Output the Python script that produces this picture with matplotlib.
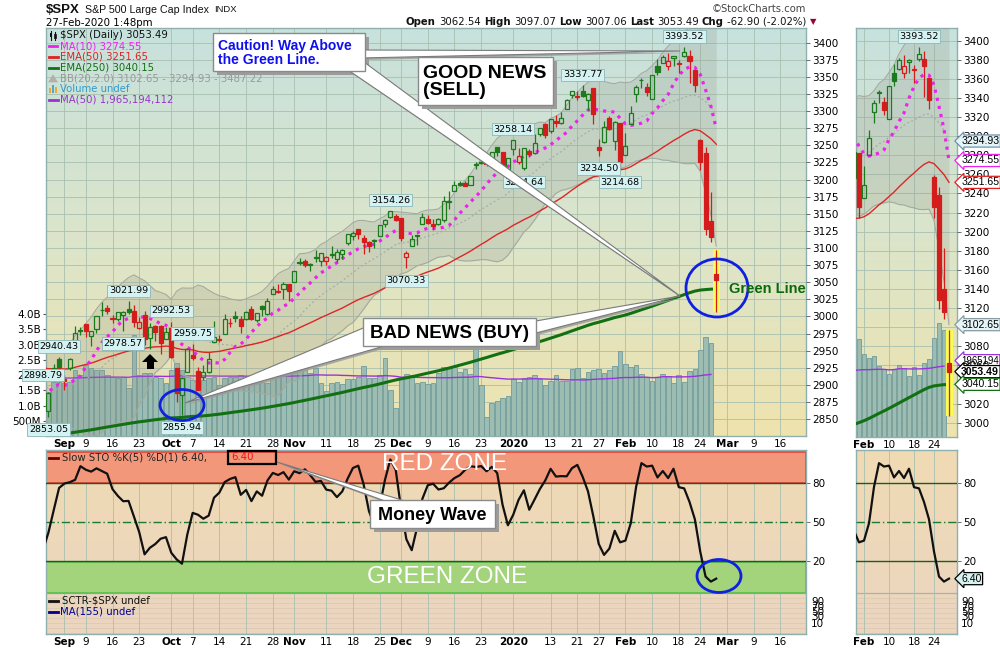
import numpy as np
import pandas as pd
import matplotlib
matplotlib.use('Agg')
import matplotlib.pyplot as plt
from matplotlib.colors import LinearSegmentedColormap
from matplotlib.patches import Rectangle, Polygon, Ellipse
from matplotlib.transforms import blended_transform_factory as blend

W, H = 1000, 650

# ---------------- data (27-Aug-2019 .. 27-Feb-2020) ----------------
first_day = '2019-08-27'
last_axis_day = '2020-03-20'
holidays = ['2019-09-02', '2019-11-28', '2019-12-25', '2020-01-01',
            '2020-01-20', '2020-02-17']

opens = [2893.14, 2861.28, 2910.37, 2937.09,
         2909.01, 2924.67, 2960.60, 2980.33, 2988.43, 2971.01, 2981.41, 3009.08, 3012.21, 2996.41,
         2995.67, 3001.50, 3010.36, 3008.42, 2983.50, 3002.43, 2968.35, 2985.73, 2985.47, 2967.07,
         2983.69, 2924.78, 2885.38, 2918.56, 2944.23, 2920.40, 2911.10, 2918.55, 2963.07, 2965.81,
         2973.61, 2989.68, 3000.77, 2996.84, 2996.48, 3010.73, 2994.01, 3014.78, 3003.32, 3032.12,
         3035.39, 3039.74, 3046.90,
         3050.72, 3078.96, 3080.80, 3075.10, 3087.02, 3081.25, 3080.33, 3089.28, 3084.18, 3090.75,
         3107.92, 3117.91, 3127.45, 3114.66, 3108.49, 3111.41, 3117.44, 3134.85, 3145.49, 3147.18,
         3143.85, 3087.41, 3103.50, 3119.21, 3134.62, 3141.86, 3135.36, 3135.75, 3141.23, 3166.65,
         3183.63, 3195.40, 3195.21, 3192.32, 3223.33, 3226.05, 3225.45, 3227.20, 3247.23, 3240.09,
         3215.18,
         3244.67, 3226.36, 3217.55, 3241.86, 3238.59, 3266.03, 3281.81, 3271.13, 3285.35, 3282.27,
         3302.97, 3323.66, 3321.03, 3330.02, 3315.77, 3333.10, 3247.16, 3255.35, 3289.46, 3256.45,
         3282.33,
         3235.66, 3280.61, 3324.91, 3344.92, 3335.54, 3318.28, 3365.87, 3370.50, 3365.90, 3378.08,
         3369.04, 3380.39, 3380.45, 3360.50, 3257.61, 3238.94, 3139.90, 3062.54]
highs = [2898.79, 2890.03, 2930.50, 2940.43,
         2914.39, 2938.84, 2985.86, 2985.03, 2989.43, 2979.39, 3000.93, 3020.74, 3017.33, 3002.19,
         3006.21, 3007.83, 3021.99, 3016.37, 2999.15, 3007.98, 2989.82, 2987.28, 2987.31, 2983.85,
         2992.53, 2924.78, 2911.13, 2953.74, 2959.75, 2925.47, 2929.32, 2948.46, 2993.28, 2972.84,
         3003.28, 2997.54, 3008.29, 3000.00, 3007.33, 3014.57, 3004.78, 3016.07, 3027.39, 3044.08,
         3047.87, 3050.10, 3046.90,
         3066.95, 3085.20, 3083.95, 3078.34, 3097.77, 3093.09, 3088.33, 3102.61, 3098.06, 3098.20,
         3120.46, 3124.17, 3127.64, 3118.97, 3110.11, 3112.87, 3133.83, 3142.69, 3154.26, 3150.30,
         3144.31, 3094.97, 3119.38, 3119.45, 3150.60, 3148.87, 3142.12, 3143.98, 3176.28, 3182.68,
         3197.71, 3198.22, 3198.48, 3205.48, 3225.65, 3227.78, 3226.43, 3240.08, 3247.93, 3240.92,
         3231.72,
         3258.14, 3246.15, 3246.84, 3244.91, 3267.07, 3275.58, 3282.99, 3288.13, 3294.25, 3298.66,
         3317.11, 3329.88, 3329.79, 3337.77, 3326.88, 3333.18, 3258.85, 3285.78, 3293.47, 3285.91,
         3282.33,
         3268.44, 3306.92, 3337.58, 3347.96, 3341.42, 3352.26, 3375.63, 3381.47, 3385.09, 3380.69,
         3375.01, 3393.52, 3389.15, 3360.76, 3259.81, 3246.99, 3182.51, 3097.07]
lows = [2860.59, 2853.05, 2905.67, 2913.32,
        2891.85, 2921.86, 2960.60, 2972.51, 2969.39, 2957.01, 2975.31, 3000.92, 3002.90, 2990.67,
        2993.73, 2978.57, 3003.16, 2984.68, 2982.23, 2957.73, 2952.86, 2963.71, 2945.53, 2967.07,
        2938.70, 2874.93, 2855.94, 2918.56, 2935.68, 2892.66, 2907.41, 2917.12, 2963.07, 2962.94,
        2973.61, 2985.20, 2991.79, 2976.31, 2995.35, 2995.04, 2991.21, 3000.42, 3001.94, 3032.12,
        3034.81, 3025.96, 3023.19,
        3050.72, 3074.87, 3072.15, 3065.89, 3080.23, 3073.58, 3075.82, 3084.73, 3078.80, 3083.26,
        3104.60, 3112.06, 3113.47, 3091.41, 3094.55, 3099.26, 3117.44, 3131.00, 3143.41, 3139.34,
        3110.78, 3070.33, 3102.53, 3103.76, 3134.62, 3135.46, 3126.09, 3133.21, 3138.47, 3156.51,
        3183.63, 3191.03, 3191.14, 3192.32, 3216.03, 3222.30, 3220.51, 3227.20, 3234.37, 3216.57,
        3212.03,
        3235.53, 3222.34, 3214.64, 3232.43, 3236.67, 3263.67, 3260.86, 3268.43, 3277.19, 3280.69,
        3302.82, 3318.86, 3316.61, 3320.04, 3301.87, 3281.53, 3234.50, 3253.22, 3271.89, 3242.80,
        3214.68,
        3235.66, 3280.61, 3313.75, 3334.39, 3322.12, 3317.77, 3352.72, 3369.72, 3360.52, 3366.15,
        3355.61, 3378.83, 3341.02, 3328.45, 3214.65, 3118.77, 3108.99, 3007.06]
closes = [2869.16, 2887.94, 2924.58, 2926.46,
          2906.27, 2937.78, 2976.00, 2978.71, 2978.43, 2979.39, 3000.93, 3009.57, 3007.39, 2997.96,
          3005.70, 3006.73, 3006.79, 2992.07, 2991.78, 2966.60, 2984.87, 2977.62, 2961.79, 2976.74,
          2940.25, 2887.61, 2910.63, 2952.01, 2938.79, 2893.06, 2919.40, 2938.13, 2970.27, 2966.15,
          2995.68, 2989.69, 2997.95, 2986.20, 3006.72, 2995.99, 3004.52, 3010.29, 3022.55, 3039.42,
          3036.89, 3046.77, 3037.56,
          3066.91, 3078.27, 3074.62, 3076.78, 3085.18, 3093.08, 3087.01, 3091.84, 3094.04, 3096.63,
          3120.46, 3122.03, 3120.18, 3108.46, 3103.54, 3110.29, 3133.64, 3140.52, 3153.63, 3140.98,
          3113.87, 3093.20, 3112.76, 3117.43, 3145.91, 3135.96, 3132.52, 3141.63, 3168.57, 3168.80,
          3191.45, 3192.52, 3191.14, 3205.37, 3221.22, 3224.01, 3223.38, 3239.91, 3240.02, 3221.29,
          3230.78,
          3257.85, 3234.85, 3246.28, 3237.18, 3253.05, 3274.70, 3265.35, 3288.13, 3283.15, 3289.29,
          3316.81, 3329.62, 3320.79, 3321.75, 3325.54, 3295.47, 3243.63, 3276.24, 3273.40, 3283.66,
          3225.52,
          3248.92, 3297.59, 3334.69, 3345.78, 3327.71, 3352.09, 3357.75, 3379.45, 3373.94, 3380.16,
          3370.29, 3386.15, 3373.23, 3337.75, 3225.89, 3128.21, 3116.39, 3053.49]
# volume in billions (no volume yet for the intraday bar of 27-Feb)
volumes = [1.60,
           1.45, 1.78, 1.78, 1.73, 1.78, 2.16, 2.00, 2.33, 2.22, 2.16,
           2.16, 2.00, 1.95, 1.89, 1.95, 1.56, 3.31, 2.00, 2.05, 2.05,
           1.95, 1.89, 1.73, 2.16, 2.38, 2.16, 1.95, 1.84, 2.00, 1.84,
           1.89, 1.95, 1.67, 1.89, 1.95, 1.95, 2.00, 1.73, 1.84, 1.78,
           1.78, 1.73, 1.95, 2.05,
           2.16, 2.14, 2.22, 2.16, 2.29, 2.08, 2.22, 1.73, 1.48, 1.73,
           1.76, 1.70, 1.86, 1.86, 1.95, 2.29, 1.91, 1.89, 2.00, 2.55,
           1.51, 0.91, 1.89, 2.03, 2.00, 1.73, 1.78, 1.70, 1.73, 2.05,
           2.27, 2.22, 2.29, 2.09, 2.19, 2.02, 2.98, 1.67, 0.63,
           1.07, 1.15, 1.23, 1.31, 1.86, 1.76, 1.91, 1.94, 1.99, 1.88,
           1.67, 1.80, 1.99, 1.80, 1.80, 2.19, 2.23, 1.89, 2.09, 2.17,
           2.19, 2.06, 2.17, 2.30, 2.78, 2.35, 2.25, 2.32, 2.02, 1.94,
           1.80, 1.93, 2.04, 1.97, 1.73, 1.99, 1.78, 2.12, 2.21, 2.83,
           3.25, 3.06, np.nan]

# history before the window, needed by the indicators
warm_closes = [2980.38, 2953.56, 2932.05, 2844.74, 2881.77, 2883.98, 2938.09, 2918.65, 2882.70,
               2926.32, 2840.60, 2847.60, 2888.68, 2923.65, 2900.51, 2924.43, 2922.95, 2847.11,
               2878.38]
warm_highs = [2931.00, 2923.63, 2928.73, 2939.08, 2927.01, 2879.27]
warm_lows = [2913.48, 2899.60, 2917.91, 2904.51, 2834.97, 2856.00]
ema50_start = 2925.0
ema250_start = 2826.0
vol_avg_before = 1.93

tick_dates = ['2019-09-03', '2019-09-09', '2019-09-16', '2019-09-23', '2019-10-01', '2019-10-07',
              '2019-10-14', '2019-10-21', '2019-10-28', '2019-11-01', '2019-11-11', '2019-11-18',
              '2019-11-25', '2019-12-02', '2019-12-09', '2019-12-16', '2019-12-23', '2020-01-02',
              '2020-01-13', '2020-01-21', '2020-01-27', '2020-02-03', '2020-02-10', '2020-02-18',
              '2020-02-24', '2020-03-02', '2020-03-09', '2020-03-16']
tick_labels = ['Sep', '9', '16', '23', 'Oct', '7', '14', '21', '28', 'Nov', '11', '18', '25',
               'Dec', '9', '16', '23', '2020', '13', '21', '27', 'Feb', '10', '18', '24', 'Mar',
               '9', '16']
zoom_tick_dates = ['2020-02-03', '2020-02-10', '2020-02-18', '2020-02-24']
zoom_tick_labels = ['Feb', '10', '18', '24']

flags = [('2019-08-27', 'high'), ('2019-08-28', 'low'), ('2019-08-30', 'high'),
         ('2019-09-18', 'low'), ('2019-09-19', 'high'), ('2019-10-01', 'high'),
         ('2019-10-03', 'low'), ('2019-10-07', 'high'), ('2019-11-27', 'high'),
         ('2019-12-03', 'low'), ('2020-01-02', 'high'), ('2020-01-06', 'low'),
         ('2020-01-22', 'high'), ('2020-01-27', 'low'), ('2020-01-31', 'low'),
         ('2020-02-19', 'high')]

right_tags = [('3294.93', 3294.93, '#e4f5f8', '#6f93aa', 'normal'),
              ('3274.55', 3274.55, 'white', '#ee22ee', 'normal'),
              ('3251.65', 3251.65, 'white', '#dd2222', 'normal'),
              ('3102.65', 3102.65, '#e4f5f8', '#8a9aa2', 'normal'),
              ('3053.49', 3053.49, 'white', '#000000', 'bold'),
              ('3040.15', 3040.15, 'white', '#127012', 'normal')]

# ---------------- indicators ----------------
days = pd.bdate_range(first_day, last_axis_day, freq='C', holidays=holidays)
pos = {d.strftime('%Y-%m-%d'): i for i, d in enumerate(days)}

o = np.array(opens); h = np.array(highs); l = np.array(lows); c = np.array(closes)
v = np.array(volumes)
n = len(c)
x = np.arange(n)
nw = len(warm_closes)

c_all = pd.Series(warm_closes + closes)
h_all = pd.Series([np.nan] * (nw - len(warm_highs)) + warm_highs + highs)
l_all = pd.Series([np.nan] * (nw - len(warm_lows)) + warm_lows + lows)
prev_c = c_all.shift(1).values[nw:]

ma10 = c_all.rolling(10).mean().values[nw:]
bb_mid = c_all.rolling(20).mean().values[nw:]
bb_sd = c_all.rolling(20).std(ddof=0).values[nw:]
bb_up, bb_lo = bb_mid + 2 * bb_sd, bb_mid - 2 * bb_sd


def ema(values, start, span):
    a = 2.0 / (span + 1)
    out = [start]
    for val in values[1:]:
        out.append(out[-1] + a * (val - out[-1]))
    return np.array(out)


ema50 = ema(c, ema50_start, 50)
ema250 = ema(c, ema250_start, 250)

lo5 = l_all.rolling(5).min()
hi5 = h_all.rolling(5).max()
fast_k = (c_all - lo5) / (hi5 - lo5) * 100
slow_k = fast_k.rolling(3).mean().values[nw:]

v_all = pd.Series([vol_avg_before] * 49 + list(v[:-1]))
vol_ma = v_all.rolling(50).mean().values[49:]

# ---------------- drawing ----------------
GREEN = '#1b7a1b'
RED = '#d41c1c'
GRID = '#a8c0b0'
SPINE = '#8fb0ae'
TAGFONT = 'Liberation Sans'
main_cmap = LinearSegmentedColormap.from_list('m', ['#c7e1dd', '#dbe5cb', '#efe3ad'])
sto_cmap = LinearSegmentedColormap.from_list('s', ['#f0dbb4', '#ebd5c0'])

plt.rcParams['font.family'] = 'DejaVu Sans'
fig = plt.figure(figsize=(W / 100, H / 100), dpi=100)
fig.patch.set_facecolor('white')


def px_axes(x0, y0, x1, y1):
    return fig.add_axes([x0 / W, 1 - y1 / H, (x1 - x0) / W, (y1 - y0) / H])


def paint_bg(ax, cmap):
    ax.imshow(np.linspace(0, 1, 256).reshape(-1, 1), cmap=cmap, aspect='auto',
              extent=(0, 1, 0, 1), transform=ax.transAxes, origin='upper', zorder=0)


def style_spines(ax, color=SPINE):
    for s in ax.spines.values():
        s.set_color(color)
        s.set_linewidth(1.0)


def candles(ax, xs, width, lw):
    up = c >= prev_c
    col = np.where(up, GREEN, RED)
    top = np.maximum(o, c)
    bot = np.minimum(o, c)
    ax.vlines(xs, top, h, colors=col, lw=lw, zorder=5)
    ax.vlines(xs, l, bot, colors=col, lw=lw, zorder=5)
    fc = ['none' if cc > oo else cl for cc, oo, cl in zip(c, o, col)]
    ax.bar(xs, np.maximum(top - bot, 0.6), width, bot, color=fc, edgecolor=col,
           lw=lw, zorder=6)


def price_panel(box, xlim, ylim, vol_top, grid_step, bar_w, hl_w):
    ax_v = px_axes(*box)
    ax_p = px_axes(*box)
    ax_p.patch.set_visible(False)
    paint_bg(ax_v, main_cmap)
    for ax in (ax_v, ax_p):
        ax.set_xlim(*xlim)
    ax_p.set_ylim(*ylim)
    ax_v.set_ylim(0, vol_top)
    tr = blend(ax_v.transAxes, ax_p.transData)
    for p in np.arange(2800, 3450, grid_step):
        ax_v.plot([0, 1], [p, p], transform=tr, color=GRID, lw=0.6, zorder=1)
    ax_v.bar(x, v, 0.88, color='#9dbdb2', edgecolor='#6f9b9b', lw=0.6, zorder=2)
    ax_v.plot(x[:-1], vol_ma, color='#9933dd', lw=1.0, zorder=3)

    ax_p.fill_between(x, bb_lo, bb_up, color='#8f9488', alpha=0.22, lw=0, zorder=1)
    ax_p.plot(x, bb_up, color='#a5aaa0', lw=0.8, zorder=1.5)
    ax_p.plot(x, bb_lo, color='#a5aaa0', lw=0.8, zorder=1.5)
    ax_p.plot(x, bb_mid, color='#a8aca6', lw=0.9, ls=(0, (1.5, 2)), zorder=1.5)
    ax_p.plot(x, ema250, color='#127012', lw=2.2, zorder=2)
    ax_p.plot(x, ema50, color='#dd2626', lw=1.0, zorder=2)
    ax_p.plot(x, ma10, color='#ee22ee', lw=2.3, ls=(0, (1, 1.6)), zorder=3)
    ax_p.add_patch(Rectangle((x[-1] - hl_w / 2, l[-1]), hl_w, h[-1] - l[-1],
                             fc='#fbfb55', ec='none', zorder=4))
    candles(ax_p, x, bar_w, 0.9)

    style_spines(ax_v)
    for s in ax_p.spines.values():
        s.set_visible(False)
    ax_p.tick_params(axis='x', bottom=False, labelbottom=False)
    ax_p.yaxis.tick_right()
    ax_p.tick_params(axis='y', length=3, width=0.6, pad=1.5, labelsize=7.5,
                     color='#555555')
    return ax_v, ax_p


def set_dates(ax, dates, labels):
    ticks = [pos[d] for d in dates]
    ax.set_xticks(ticks)
    ax.set_xticklabels(labels)
    for t, lab in zip(ax.get_xticklabels(), labels):
        if not lab.isdigit() or lab == '2020':
            t.set_fontweight('bold')
    ax.tick_params(axis='x', length=0, pad=2, labelsize=7.5)
    for t in ticks:
        ax.axvline(t, color=GRID, lw=0.6, zorder=1)


def flag(ax, i, val, above):
    ax.annotate(f'{val:.2f}', (i, val), xytext=(0, 7.6 if above else -9.0),
                textcoords='offset points', ha='center', va='center', fontsize=6.8,
                bbox=dict(boxstyle='square,pad=0.18', fc='#d5f2f2', ec='#8eb6b8', lw=0.6),
                zorder=8, annotation_clip=False)


def side_tag(ax, txt, val, fc, ec, fw='normal', dy=0, fs=7.6):
    ax.annotate(txt, (1, val), xycoords=blend(ax.transAxes, ax.transData),
                xytext=(3, dy), textcoords='offset points', ha='left', va='center',
                fontsize=fs, fontweight=fw, family=TAGFONT, zorder=9,
                annotation_clip=False,
                bbox=dict(boxstyle='larrow,pad=0.1', fc=fc, ec=ec, lw=0.9))


# main price panel
main_x = (0.55, 142.8)
ax_v, ax_p = price_panel((46, 28, 806, 436), main_x, (2825.2, 3421.5), 13.38, 25, 0.76, 1.3)
ax_p.set_yticks(np.arange(2850, 3401, 25))
set_dates(ax_v, tick_dates, tick_labels)
ax_v.set_yticks([0.5, 1, 1.5, 2, 2.5, 3, 3.5, 4])
ax_v.set_yticklabels(['500M', '1.0B', '1.5B', '2.0B', '2.5B', '3.0B', '3.5B', '4.0B'])
ax_v.tick_params(axis='y', length=2, pad=1.5, labelsize=7.5, color='#555555')
for day, kind in flags:
    i = pos[day]
    flag(ax_p, i, h[i] if kind == 'high' else l[i], kind == 'high')

# zoomed price panel
zoom_x = (107.4, 127.6)
ax_vr, ax_pr = price_panel((856, 28, 957, 437), zoom_x, (2985.0, 3413.3), 11.65, 20, 0.78, 1.4)
ax_pr.set_yticks(np.arange(3000, 3401, 20))
set_dates(ax_vr, zoom_tick_dates, zoom_tick_labels)
ax_vr.set_yticks([])
i_top = pos['2020-02-19']
flag(ax_pr, i_top, h[i_top], True)
side_tag(ax_vr, '1965194', vol_ma[-1], 'white', '#9933dd', dy=4, fs=6.9)
for txt, val, fc, ec, fw in right_tags:
    side_tag(ax_pr, txt, val, fc, ec, fw)


# stochastic panels
def sto_panel(box, xlim, zones):
    ax = px_axes(*box)
    paint_bg(ax, sto_cmap)
    ax.set_xlim(*xlim)
    ax.set_ylim(-36.2, 105.4)
    tr = blend(ax.transAxes, ax.transData)
    for yv in np.arange(-8.5, -36, -3.85):
        ax.plot([0, 1], [yv, yv], transform=tr, color='#dac8b0', lw=0.5, zorder=1)
    ax.plot([0, 1], [-4.6, -4.6], transform=tr, color='#9fb4b4', lw=0.9, zorder=1)
    if zones:
        ax.add_patch(Rectangle((0, 80), 1, 23.8, transform=tr, fc='#f2977a', ec='#e4483f',
                               lw=1.3, zorder=2))
        ax.add_patch(Rectangle((0, -4.6), 1, 23.8, transform=tr, fc='#a3d47c', ec='#5fc250',
                               lw=1.3, zorder=2))
    ax.axhline(80, color='#1f5a1f', lw=1.0, zorder=3)
    ax.axhline(20, color='#1f5a1f', lw=1.0, zorder=3)
    ax.axhline(50, color='#1a7a3a', lw=1.0, ls=(0, (6, 2, 1, 2)), zorder=3)
    ax.plot(x, slow_k, color='#111111', lw=1.6, zorder=4)
    ax.yaxis.tick_right()
    ax.set_yticks([20, 50, 80])
    ax.tick_params(axis='y', length=3, width=0.6, pad=1.5, labelsize=7.5, color='#555555')
    style_spines(ax)
    return ax


sto = sto_panel((46, 450, 806, 634), main_x, True)
set_dates(sto, tick_dates, tick_labels)
sto_r = sto_panel((856, 450, 957, 634), zoom_x, False)
set_dates(sto_r, zoom_tick_dates, zoom_tick_labels)
side_tag(sto_r, f'{slow_k[-1]:.2f}', slow_k[-1], '#d8f2f2', '#000000')

# ---------------- overlay: titles, legends, callouts ----------------
ov = fig.add_axes([0, 0, 1, 1], zorder=20)
ov.set_xlim(0, W)
ov.set_ylim(H, 0)
ov.axis('off')
renderer = fig.canvas.get_renderer()


def t(xp, yp, s, **kw):
    kw.setdefault('fontsize', 7.5)
    kw.setdefault('va', 'center')
    return ov.text(xp, yp, s, **kw)


def text_row(x0, yp, pieces, gap, **kw):
    xx = x0
    for s, fw, col, fs in pieces:
        tt = t(xx, yp, s, fontweight=fw, color=col, fontsize=fs, **kw)
        xx += tt.get_window_extent(renderer).width + gap


text_row(46, 10, [('$SPX', 'bold', '#111111', 9.5),
                  ('S&P 500 Large Cap Index', 'normal', '#111111', 7.7),
                  ('INDX', 'normal', '#111111', 6.8)], 5, family=TAGFONT)
t(46, 23, '27-Feb-2020 1:48pm', fontsize=7.4)
t(806, 9, '\u00a9StockCharts.com', fontsize=7.2, ha='right', color='#444444')
text_row(406, 22, [('Open', 'bold', '#111111', 7.3), ('3062.54', 'normal', '#111111', 7.3),
                   ('High', 'bold', '#111111', 7.3), ('3097.07', 'normal', '#111111', 7.3),
                   ('Low', 'bold', '#111111', 7.3), ('3007.06', 'normal', '#111111', 7.3),
                   ('Last', 'bold', '#111111', 7.3), ('3053.49', 'normal', '#111111', 7.3),
                   ('Chg', 'bold', '#111111', 7.3), ('-62.90 (-2.02%)', 'normal', '#111111', 7.3),
                   ('\u25bc', 'normal', '#990033', 6)], 3.2)

# price legend
legend_rows = [('$SPX (Daily) 3053.49', '#111111', 'candle'),
               ('MA(10) 3274.55', '#ee22ee', 'dash'),
               ('EMA(50) 3251.65', '#dd2222', 'line'),
               ('EMA(250) 3040.15', '#127012', 'line'),
               ('BB(20,2.0) 3102.65 - 3294.93 - 3487.22', '#999999', 'bb'),
               ('Volume undef', '#3399cc', 'vol'),
               ('MA(50) 1,965,194,112', '#9933cc', 'line')]
for k, (s, col, icon) in enumerate(legend_rows):
    yy = 35.5 + 10.7 * k
    t(60, yy, s, color=col, fontsize=7.3)
    if icon == 'line':
        ov.plot([49, 58], [yy, yy], color=col, lw=2)
    elif icon == 'dash':
        ov.plot([49, 52], [yy, yy], color=col, lw=2)
        ov.plot([54, 57], [yy, yy], color=col, lw=2)
    elif icon == 'candle':
        ov.plot([51, 51], [31, 40], color='#111111', lw=0.8)
        ov.plot([55, 55], [32, 40], color='#111111', lw=0.8)
        ov.add_patch(Rectangle((50, 33), 2, 4, fc='#111111'))
        ov.add_patch(Rectangle((54, 34), 2, 4, fc='white', ec='#111111', lw=0.6))
    elif icon == 'bb':
        ov.add_patch(Polygon([(48, yy + 4), (53, yy - 4), (58, yy + 4)], fc='#b0b0a8'))
    elif icon == 'vol':
        for bx, bh, bc in [(49, 5, '#e0b030'), (52, 8, '#5aa0d0'), (55, 6, '#e0b030')]:
            ov.add_patch(Rectangle((bx, yy + 4 - bh), 2, bh, fc=bc))

# stochastic legends
ov.plot([49, 58], [457.5, 457.5], color='#660000', lw=2)
t(62, 457.5, 'Slow STO %K(5) %D(1) 6.40,', color='#222222', fontsize=7.3)
t(231, 457.5, '6.40', color='#ee1111', fontsize=7.3)
ov.add_patch(Rectangle((228, 451), 48, 13, fill=False, ec='#000000', lw=1.6))
ov.plot([49, 58], [600.5, 600.5], color='#111111', lw=2)
t(62, 600.5, 'SCTR-$SPX undef', color='#111111', fontsize=7.3)
ov.plot([49, 58], [611.5, 611.5], color='#000088', lw=2)
t(60, 611.5, 'MA(155) undef', color='#000099', fontsize=7.3)
t(445, 464, 'RED ZONE', fontsize=17.5, color='white', ha='center', family=TAGFONT)
t(447, 577, 'GREEN ZONE', fontsize=17.5, color='white', ha='center', family=TAGFONT)
for xp in (811, 961):
    for lab, yp in [('90', 602), ('70', 607), ('50', 612), ('30', 617), ('10', 624)]:
        t(xp, yp, lab, fontsize=7.5)


def callout(rect, tails, text, fs, color, ha='center'):
    x0, y0, x1, y1 = rect
    for b1, b2, tip in tails:
        ov.add_patch(Polygon([(b1[0] + 2, b1[1] + 2), (b2[0] + 2, b2[1] + 2),
                              (tip[0] + 2, tip[1] + 2)], fc='#9a9a9a', ec='none', alpha=0.8))
    ov.add_patch(Rectangle((x0 + 4, y0 + 4), x1 - x0, y1 - y0, fc='#9c9c9c', ec='none'))
    for b1, b2, tip in tails:
        ov.add_patch(Polygon([b1, b2, tip], fc='white', ec='#7a7a7a', lw=0.8))
    ov.add_patch(Rectangle((x0, y0), x1 - x0, y1 - y0, fc='white', ec='#8a8a8a', lw=1))
    tx = (x0 + x1) / 2 if ha == 'center' else x0 + 5
    ov.text(tx, (y0 + y1) / 2 + 1, text, ha=ha, va='center', fontsize=fs, fontweight='bold',
            color=color, family=TAGFONT, linespacing=1.05)


callout((213, 33, 365, 71), [((360, 50), (360, 58), (680, 51)),
                             ((348, 70), (364, 62), (680, 296))],
        'Caution! Way Above\nthe Green Line.', 10, '#1010ee', ha='left')
callout((418, 57, 553, 105), [], 'GOOD NEWS\n(SELL)', 14, '#000000', ha='left')
callout((363, 318, 536, 346), [((368, 326), (388, 345), (185, 403)),
                               ((530, 322), (532, 334), (680, 296))],
        'BAD NEWS (BUY)', 13.5, '#000000')
callout((370, 500, 495, 528), [((385, 501), (405, 501), (277, 462))],
        'Money Wave', 13, '#000000')

for cx, cy, ew, eh in [(182, 405, 44, 31), (717, 288, 62, 58), (719, 576, 44, 33)]:
    ov.add_patch(Ellipse((cx, cy), ew, eh, fill=False, ec='#1020e0', lw=2))
t(729, 289, 'Green Line', fontsize=10.5, fontweight='bold', color='#0a6a0a', family=TAGFONT)
ov.add_patch(Polygon([(142, 362), (158, 362), (150, 354)], fc='black'))
ov.add_patch(Rectangle((146.5, 362), 7, 7, fc='black'))

fig.savefig('out.png', dpi=100)
